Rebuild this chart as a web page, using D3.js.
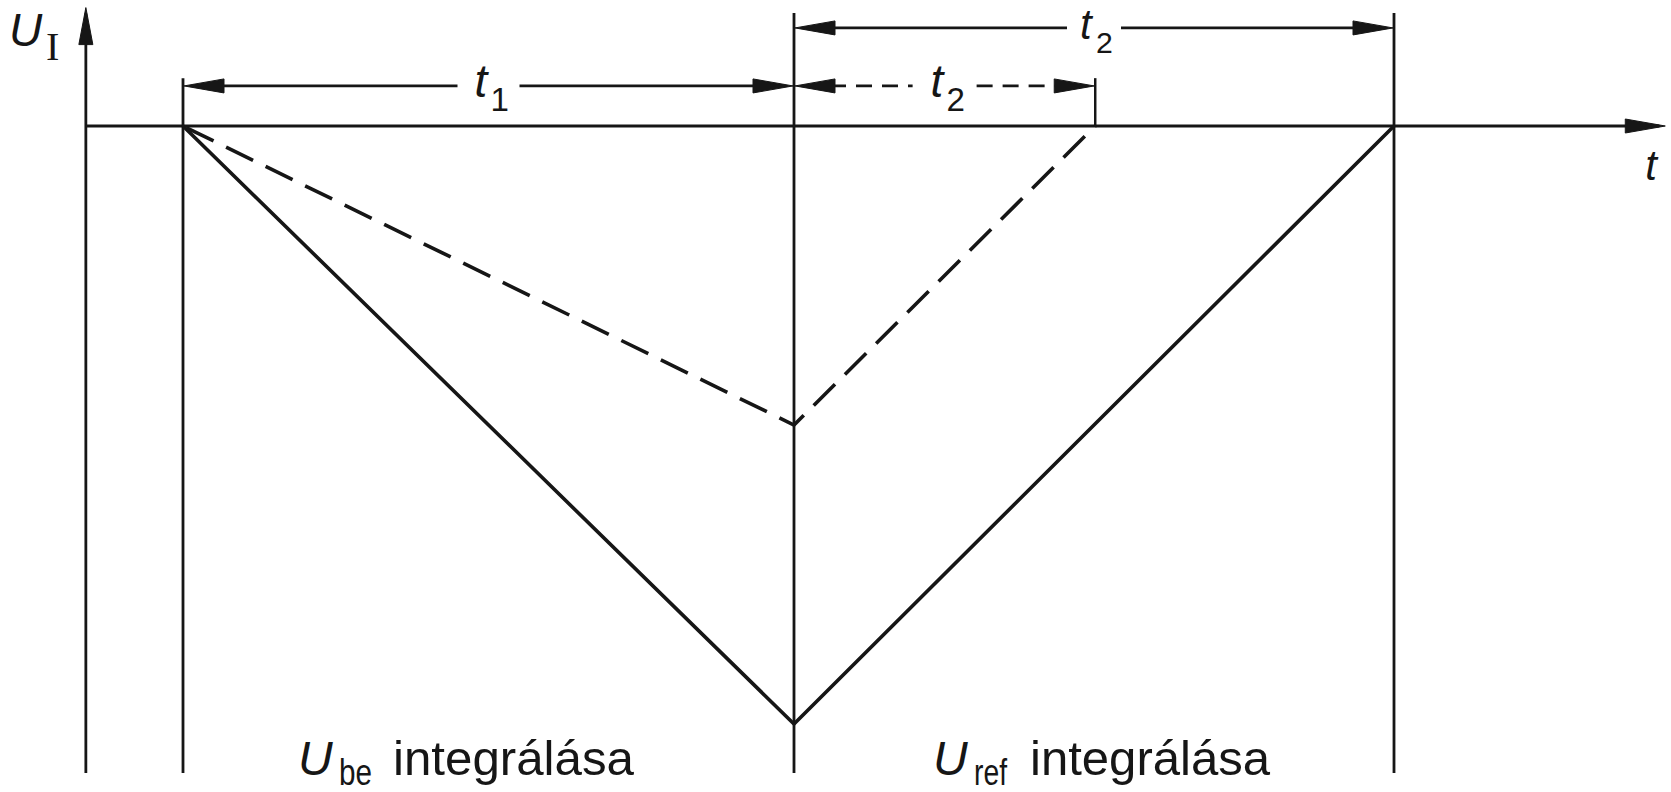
<!DOCTYPE html>
<html><head><meta charset="utf-8">
<script src="https://cdn.jsdelivr.net/npm/d3@7"></script>
<style>html,body{margin:0;padding:0;background:#fff;}svg{display:block;}</style>
</head><body>
<div id="chart"></div>
<script>
// ---- data (time in units of t1, voltage in units of full-scale U_be integration) ----
const solidT  = [0, 1, 1.982];      // U_I for large input: start, end of t1, end of t2
const solidU  = [0, -1, 0];
const dashedT = [0, 1, 1.493];      // U_I for smaller input
const dashedU = [0, -0.5, 0];
const phaseSymbols = ["be", "ref"]; // U_be / U_ref
const phaseText = "integrálása";
const intervalLabels = ["1", "2", "2"]; // t1, t2 (dashed), t2 (solid)

// ---- layout ----
const W = 1671, H = 792;
const svg = d3.select("#chart").append("svg").attr("width", W).attr("height", H);
svg.append("rect").attr("width", W).attr("height", H).attr("fill", "#fff");

const x = d3.scaleLinear().domain([0, 1]).range([183, 794]);
const y = d3.scaleLinear().domain([0, -1]).range([126, 724]);
const ink = "#161616";

const axisT0 = -0.159, axisT1 = 2.426;   // time axis extent
const axisUTop = 0.198, vBottom = -1.082;

function arrowHead(g, px, py, dir, len = 40, hw = 7) {
  let pts;
  if (dir === "r") pts = [[px, py], [px - len, py - hw], [px - len, py + hw]];
  else if (dir === "l") pts = [[px, py], [px + len, py - hw], [px + len, py + hw]];
  else pts = [[px, py], [px - hw, py + len], [px + hw, py + len]];
  g.append("path").attr("d", d3.line()(pts) + "Z").attr("fill", ink).attr("stroke", ink).attr("stroke-width", 1);
}

const g = svg.append("g");

// vertical axis (U_I)
g.append("line").attr("x1", x(axisT0)).attr("x2", x(axisT0))
  .attr("y1", y(axisUTop) + 6).attr("y2", y(vBottom)).attr("stroke", ink).attr("stroke-width", 2.8);
arrowHead(g, x(axisT0), y(axisUTop), "u", 37, 7);

// horizontal axis (t)
g.append("line").attr("x1", x(axisT0)).attr("x2", x(axisT1) - 6)
  .attr("y1", y(0)).attr("y2", y(0)).attr("stroke", ink).attr("stroke-width", 3.2);
arrowHead(g, x(axisT1), y(0), "r", 40, 7);

// vertical guide lines
const guides = [
  {t: solidT[0], top: 0.080},
  {t: solidT[1], top: 0.189},
  {t: solidT[2], top: 0.189}
];
guides.forEach(d => {
  g.append("line").attr("x1", x(d.t)).attr("x2", x(d.t))
    .attr("y1", y(d.top)).attr("y2", y(vBottom)).attr("stroke", ink).attr("stroke-width", 2.8);
});
// small tick at dashed end
g.append("line").attr("x1", x(dashedT[2])).attr("x2", x(dashedT[2]))
  .attr("y1", y(0.080)).attr("y2", y(0)).attr("stroke", ink).attr("stroke-width", 2.5);

// integrator curves
const line = d3.line().x(d => x(d[0])).y(d => y(d[1]));
g.append("path").attr("d", line(solidT.map((t, i) => [t, solidU[i]])))
  .attr("fill", "none").attr("stroke", ink).attr("stroke-width", 3.6).attr("stroke-linejoin", "miter");
g.append("path").attr("d", line(dashedT.map((t, i) => [t, dashedU[i]])))
  .attr("fill", "none").attr("stroke", ink).attr("stroke-width", 3.6)
  .attr("stroke-dasharray", "30,14").attr("stroke-dashoffset", -4);

// dimension arrows
const dims = [
  {a: solidT[0], b: solidT[1], level: 0.067, dashed: false, label: intervalLabels[0], half: 31, fs: 46},
  {a: dashedT[1], b: dashedT[2], level: 0.067, dashed: true, label: intervalLabels[1], half: 32, fs: 46},
  {a: solidT[1], b: solidT[2], level: 0.164, dashed: false, label: intervalLabels[2], half: 27, fs: 42}
];
dims.forEach(d => {
  const xa = x(d.a), xb = x(d.b), yy = y(d.level), xm = (xa + xb) / 2;
  const segs = [[xa + 10, xm - d.half], [xm + d.half, xb - 10]];
  segs.forEach(s => {
    g.append("line").attr("x1", s[0]).attr("x2", s[1]).attr("y1", yy).attr("y2", yy)
      .attr("stroke", ink).attr("stroke-width", 2.8)
      .attr("stroke-dasharray", d.dashed ? "16,10" : null);
  });
  arrowHead(g, xa + 1, yy, "l", 40, 7);
  arrowHead(g, xb - 1, yy, "r", 40, 7);
  g.append("text").attr("x", xm - 14).attr("y", yy + 11)
    .attr("font-family", "Liberation Sans, Arial, sans-serif").attr("font-style", "italic")
    .attr("font-size", d.fs).attr("fill", ink).text("t");
  g.append("text").attr("x", xm + 2).attr("y", yy + 25)
    .attr("font-family", "Liberation Sans, Arial, sans-serif")
    .attr("font-size", d.fs * 0.72).attr("fill", ink).text(d.label);
});

// axis labels
g.append("text").attr("x", 9).attr("y", 46)
  .attr("font-family", "Liberation Sans, Arial, sans-serif").attr("font-style", "italic")
  .attr("font-size", 46).attr("fill", ink).text("U");
g.append("text").attr("x", 46).attr("y", 60)
  .attr("font-family", "Liberation Serif, serif")
  .attr("font-size", 40).attr("fill", ink).text("I");
g.append("text").attr("x", x(axisT1) - 20).attr("y", 180)
  .attr("font-family", "Liberation Sans, Arial, sans-serif").attr("font-style", "italic")
  .attr("font-size", 42).attr("fill", ink).text("t");

// phase labels
const phaseX = [
  {u: 298, sub: 339, txt: 393, len: 241},
  {u: 933, sub: 974, txt: 1030, len: 240}
];
phaseSymbols.forEach((s, i) => {
  const p = phaseX[i];
  g.append("text").attr("x", p.u).attr("y", 775)
    .attr("font-family", "Liberation Sans, Arial, sans-serif").attr("font-style", "italic")
    .attr("font-size", 48).attr("fill", ink).text("U");
  g.append("text").attr("x", p.sub).attr("y", 785)
    .attr("font-family", "Liberation Sans, Arial, sans-serif")
    .attr("font-size", 37).attr("fill", ink)
    .attr("textLength", 33).attr("lengthAdjust", "spacingAndGlyphs").text(s);
  g.append("text").attr("x", p.txt).attr("y", 775)
    .attr("font-family", "Liberation Sans, Arial, sans-serif")
    .attr("font-size", 48).attr("fill", ink)
    .attr("textLength", p.len).attr("lengthAdjust", "spacingAndGlyphs").text(phaseText);
});
</script>
</body></html>
